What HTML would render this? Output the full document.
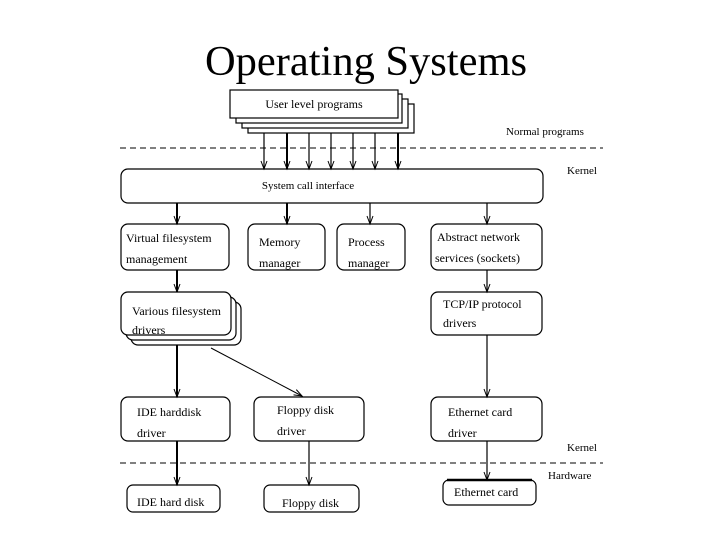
<!DOCTYPE html>
<html><head><meta charset="utf-8"><style>
html,body{margin:0;padding:0;background:#fff;}
svg text{font-family:"Liberation Serif",serif;fill:#000;}
</style></head><body>
<svg width="720" height="540" viewBox="0 0 720 540" xmlns="http://www.w3.org/2000/svg">
<defs>
<marker id="a" markerWidth="12" markerHeight="12" refX="9" refY="6" orient="auto" markerUnits="userSpaceOnUse">
<polyline points="1,3 9,6 1,9" fill="none" stroke="#000" stroke-width="1"/>
</marker>
<marker id="d" markerWidth="12" markerHeight="12" refX="10" refY="6" orient="auto" markerUnits="userSpaceOnUse">
<polyline points="2,3 10,6 2,9" fill="none" stroke="#000" stroke-width="1"/>
</marker>
</defs>
<text x="205" y="75" font-size="42" textLength="322" lengthAdjust="spacingAndGlyphs">Operating Systems</text>

<g fill="#fff" stroke="#000" stroke-width="1.2">
<rect x="248" y="104" width="166" height="29"/>
<rect x="242" y="99" width="166" height="29"/>
<rect x="236" y="94" width="166" height="29"/>
<rect x="230" y="90" width="168" height="28"/>
</g>
<text x="314" y="108" font-size="12" text-anchor="middle">User level programs</text>

<line x1="120" y1="148" x2="603" y2="148" stroke="#000" stroke-dasharray="6,4"/>
<line x1="120" y1="463" x2="603" y2="463" stroke="#000" stroke-dasharray="6,4"/>
<text x="506" y="135" font-size="11">Normal programs</text>
<text x="567" y="174" font-size="11">Kernel</text>
<text x="567" y="451" font-size="11">Kernel</text>
<text x="548" y="479" font-size="11">Hardware</text>

<g stroke="#000" fill="none" stroke-width="1.2">
<line x1="264" y1="133" x2="264" y2="169" marker-end="url(#a)"/>
<line x1="287" y1="133" x2="287" y2="169" marker-end="url(#a)" stroke-width="2"/>
<line x1="309" y1="133" x2="309" y2="169" marker-end="url(#a)"/>
<line x1="331" y1="133" x2="331" y2="169" marker-end="url(#a)"/>
<line x1="353" y1="133" x2="353" y2="169" marker-end="url(#a)"/>
<line x1="375" y1="133" x2="375" y2="169" marker-end="url(#a)"/>
<line x1="398" y1="133" x2="398" y2="169" marker-end="url(#a)" stroke-width="2"/>

<rect x="121" y="169" width="422" height="34" rx="7"/>

<line x1="177" y1="203" x2="177" y2="224" marker-end="url(#a)" stroke-width="2"/>
<line x1="287" y1="203" x2="287" y2="224" marker-end="url(#a)" stroke-width="2"/>
<line x1="370" y1="203" x2="370" y2="224" marker-end="url(#a)"/>
<line x1="487" y1="203" x2="487" y2="224" marker-end="url(#a)"/>

<rect x="121" y="224" width="108" height="46" rx="7"/>
<rect x="248" y="224" width="77" height="46" rx="7"/>
<rect x="337" y="224" width="68" height="46" rx="7"/>
<rect x="431" y="224" width="111" height="46" rx="7"/>

<line x1="177" y1="270" x2="177" y2="292" marker-end="url(#a)" stroke-width="2"/>
<line x1="487" y1="270" x2="487" y2="292" marker-end="url(#a)"/>

<rect x="131" y="302" width="110" height="43" rx="7" fill="#fff"/>
<rect x="126" y="297" width="110" height="43" rx="7" fill="#fff"/>
<rect x="121" y="292" width="110" height="43" rx="7" fill="#fff"/>
<rect x="431" y="292" width="111" height="43" rx="7"/>

<line x1="177" y1="345" x2="177" y2="397" marker-end="url(#a)" stroke-width="2"/>
<line x1="487" y1="335" x2="487" y2="397" marker-end="url(#a)"/>
<line x1="211" y1="348" x2="302" y2="396" marker-end="url(#d)" stroke-width="1"/>

<rect x="121" y="397" width="109" height="44" rx="7"/>
<rect x="254" y="397" width="110" height="44" rx="7"/>
<rect x="431" y="397" width="111" height="44" rx="7"/>

<line x1="177" y1="441" x2="177" y2="485" marker-end="url(#a)" stroke-width="2"/>
<line x1="309" y1="441" x2="309" y2="485" marker-end="url(#a)"/>
<line x1="487" y1="441" x2="487" y2="480" marker-end="url(#a)"/>

<rect x="127" y="485" width="93" height="27" rx="6"/>
<rect x="264" y="485" width="95" height="27" rx="6"/>
<rect x="443" y="480" width="93" height="25" rx="6"/>
<line x1="447" y1="480" x2="532" y2="480" stroke-width="2.5"/>
</g>

<g font-size="12">
<text x="308" y="189" text-anchor="middle" font-size="11">System call interface</text>
<text x="126" y="242">Virtual filesystem</text>
<text x="126" y="263">management</text>
<text x="259" y="246">Memory</text>
<text x="259" y="267">manager</text>
<text x="348" y="246">Process</text>
<text x="348" y="267">manager</text>
<text x="437" y="241">Abstract network</text>
<text x="435" y="262">services (sockets)</text>
<text x="132" y="315">Various filesystem</text>
<text x="132" y="334">drivers</text>
<text x="443" y="308">TCP/IP protocol</text>
<text x="443" y="327">drivers</text>
<text x="137" y="416">IDE harddisk</text>
<text x="137" y="437">driver</text>
<text x="277" y="414">Floppy disk</text>
<text x="277" y="435">driver</text>
<text x="448" y="416">Ethernet card</text>
<text x="448" y="437">driver</text>
<text x="137" y="506">IDE hard disk</text>
<text x="282" y="507">Floppy disk</text>
<text x="454" y="496">Ethernet card</text>
</g>
</svg>
</body></html>
